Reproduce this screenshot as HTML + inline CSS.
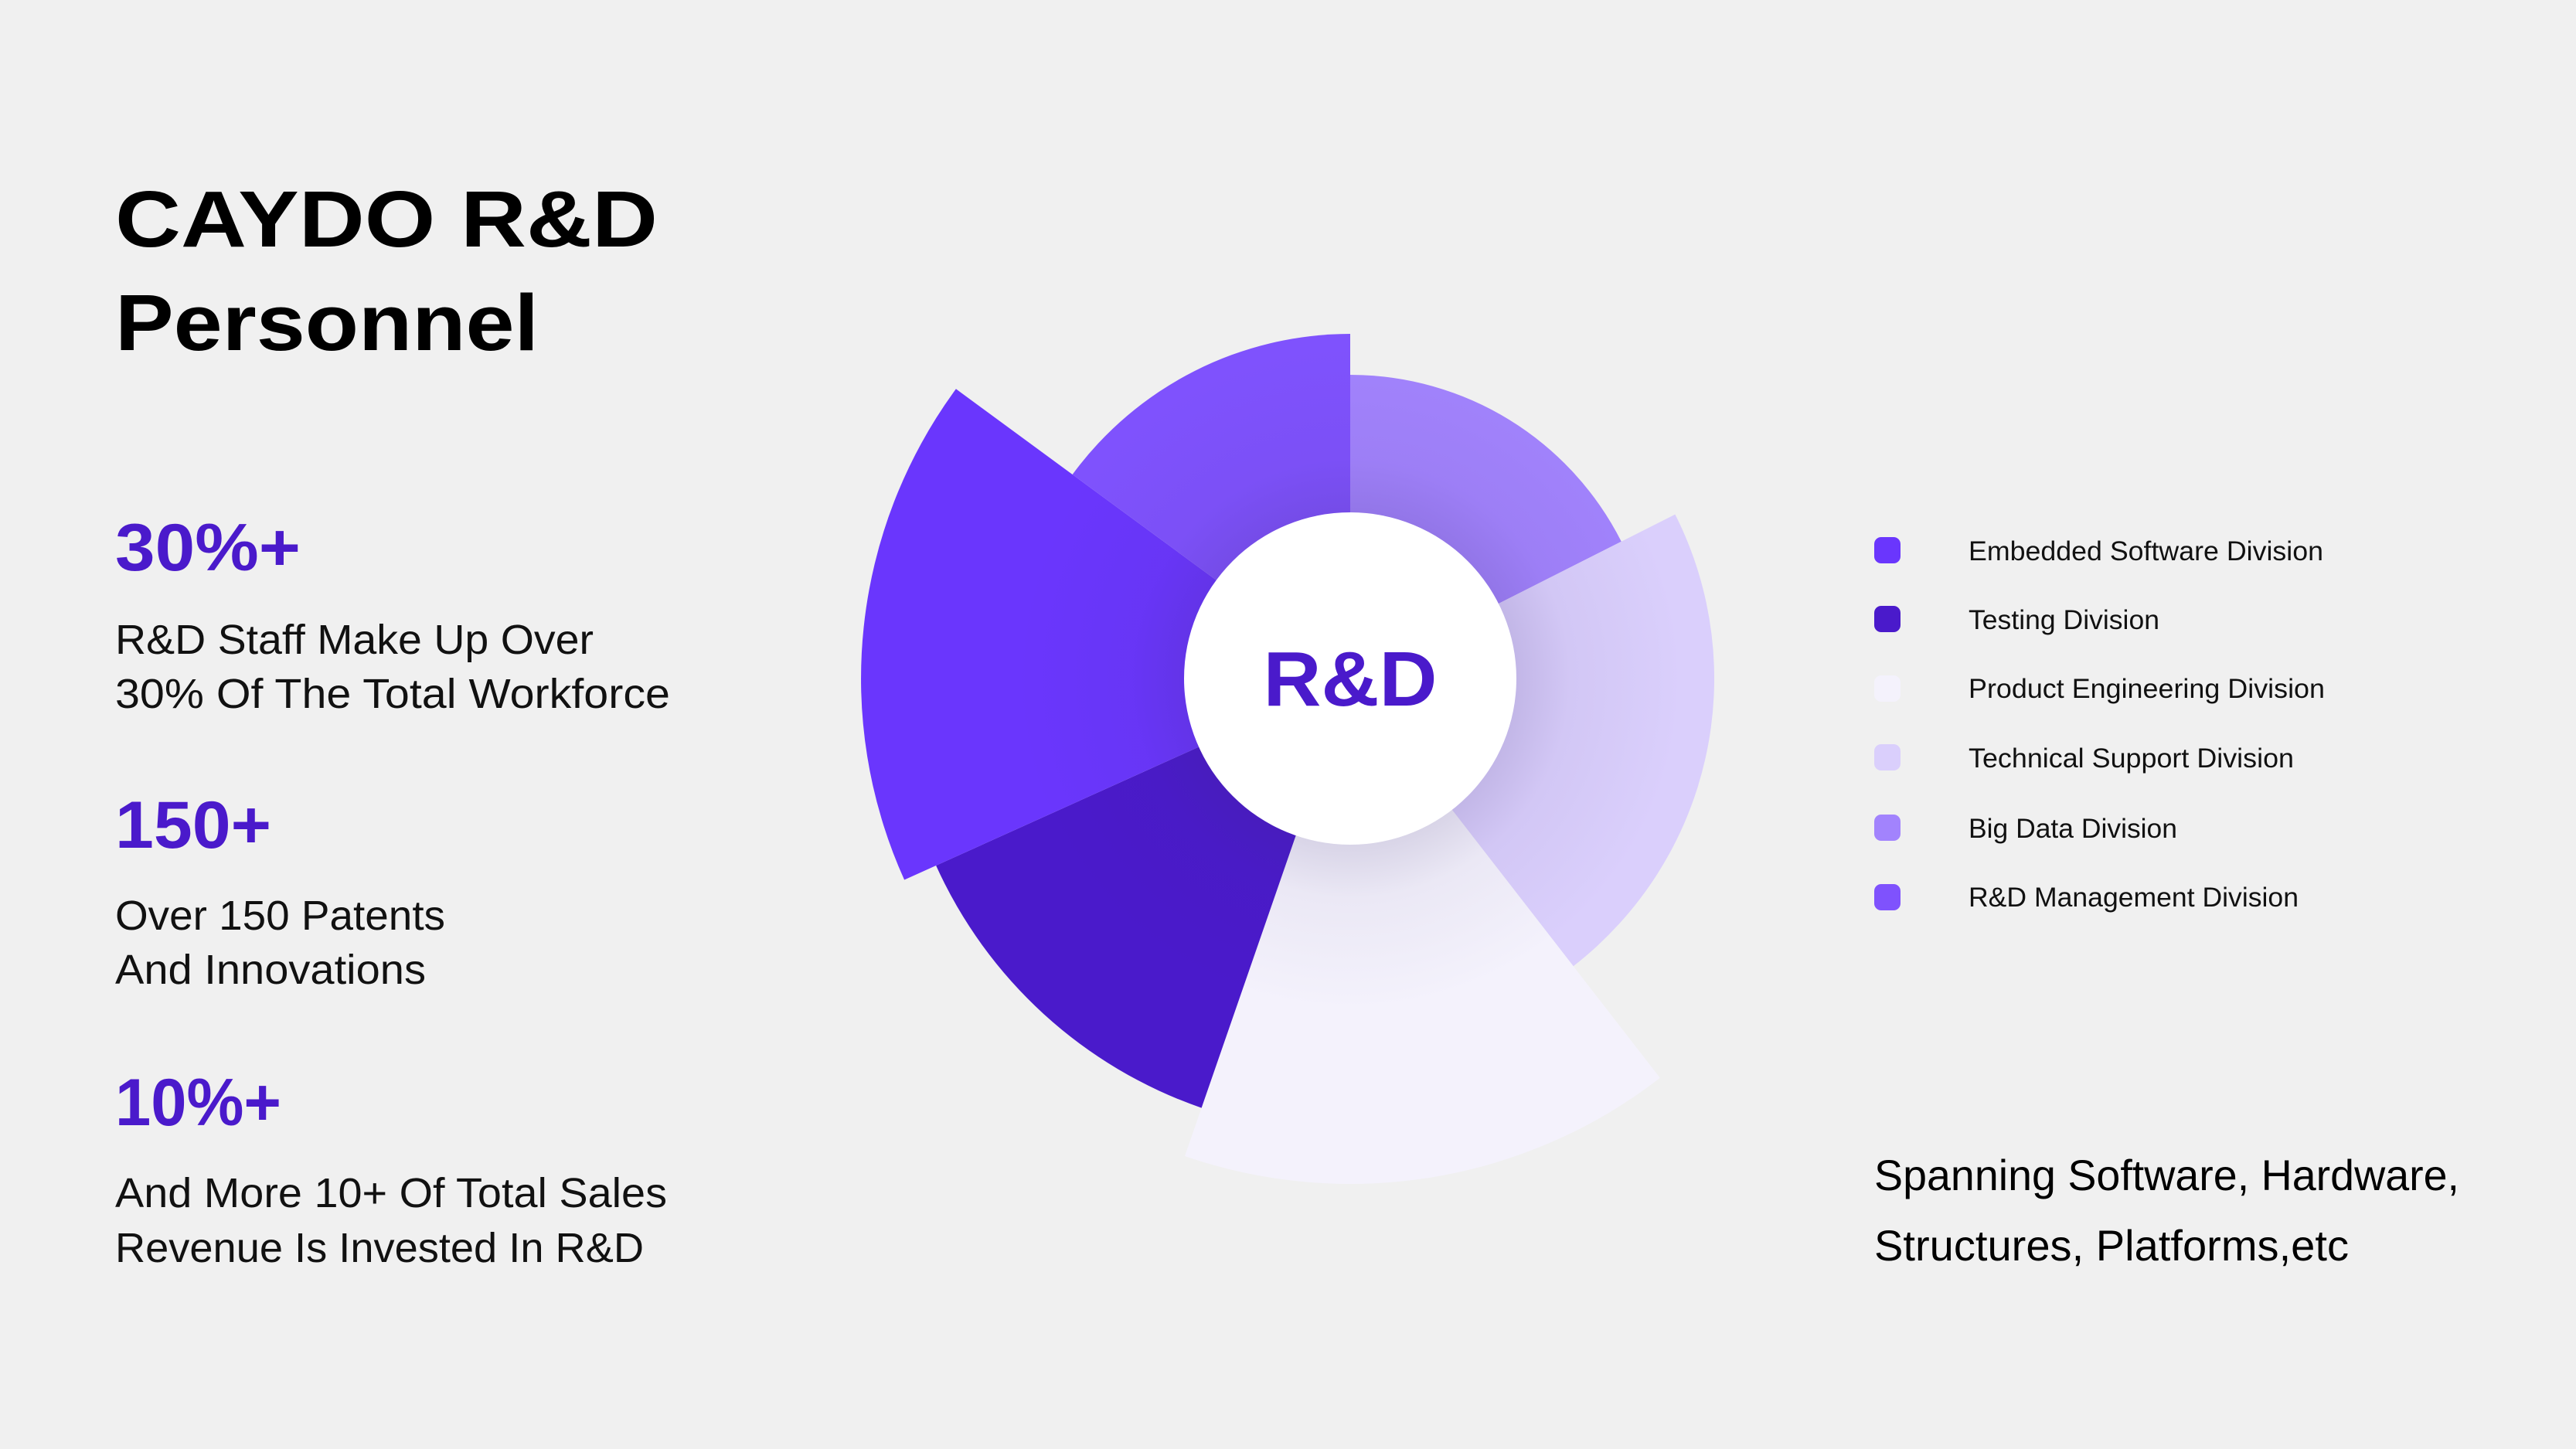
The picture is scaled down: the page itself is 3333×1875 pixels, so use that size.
<!DOCTYPE html>
<html><head><meta charset="utf-8"><style>
html,body{margin:0;padding:0;background:#f0f0f0;}
svg{display:block;}
text{font-family:"Liberation Sans",sans-serif;}
</style></head><body>
<svg width="3333" height="1875" viewBox="0 0 3333 1875" xmlns="http://www.w3.org/2000/svg">
<defs>
<radialGradient id="sh" cx="1747" cy="878" r="430" gradientUnits="userSpaceOnUse">
<stop offset="0.48" stop-color="#3a2a70" stop-opacity="0.16"/>
<stop offset="0.66" stop-color="#3a2a70" stop-opacity="0.05"/>
<stop offset="1" stop-color="#3a2a70" stop-opacity="0"/>
</radialGradient>
<clipPath id="pie">
<path d="M1747 878 L1747 485 A393 393 0 0 1 2097.8 700.8 Z"/>
<path d="M1747 878 L2167.4 665.6 A471 471 0 0 1 2035.7 1250.2 Z"/>
<path d="M1747 878 L2147.8 1394.8 A654 654 0 0 1 1533 1496 Z"/>
<path d="M1747 878 L1554.6 1433.6 A588 588 0 0 1 1211.1 1120 Z"/>
<path d="M1747 878 L1170.1 1138.5 A633 633 0 0 1 1236.9 503.3 Z"/>
<path d="M1747 878 L1387.6 614 A446 446 0 0 1 1747 432 Z"/>
</clipPath>
</defs>
<rect width="3333" height="1875" fill="#f0f0f0"/>

<text x="149" y="319" font-size="103" font-weight="bold" fill="#000" textLength="702" lengthAdjust="spacingAndGlyphs">CAYDO R&amp;D</text>
<text x="149" y="453" font-size="103" font-weight="bold" fill="#000" textLength="548" lengthAdjust="spacingAndGlyphs">Personnel</text>

<text x="149" y="738" font-size="86" font-weight="bold" fill="#4a1acb" textLength="240" lengthAdjust="spacingAndGlyphs">30%+</text>
<text x="149" y="846" font-size="54" fill="#111" textLength="619" lengthAdjust="spacingAndGlyphs">R&amp;D Staff Make Up Over</text>
<text x="149" y="916" font-size="54" fill="#111" textLength="718" lengthAdjust="spacingAndGlyphs">30% Of The Total Workforce</text>

<text x="149" y="1097" font-size="86" font-weight="bold" fill="#4a1acb" textLength="202" lengthAdjust="spacingAndGlyphs">150+</text>
<text x="149" y="1203" font-size="54" fill="#111" textLength="427" lengthAdjust="spacingAndGlyphs">Over 150 Patents</text>
<text x="149" y="1273" font-size="54" fill="#111" textLength="402" lengthAdjust="spacingAndGlyphs">And Innovations</text>

<text x="149" y="1456" font-size="86" font-weight="bold" fill="#4a1acb" textLength="215" lengthAdjust="spacingAndGlyphs">10%+</text>
<text x="149" y="1562" font-size="54" fill="#111" textLength="714" lengthAdjust="spacingAndGlyphs">And More 10+ Of Total Sales</text>
<text x="149" y="1633" font-size="54" fill="#111" textLength="684" lengthAdjust="spacingAndGlyphs">Revenue Is Invested In R&amp;D</text>

<path d="M1747 878 L1747 485 A393 393 0 0 1 2097.8 700.8 Z" fill="#a283fd"/>
<path d="M1747 878 L2167.4 665.6 A471 471 0 0 1 2035.7 1250.2 Z" fill="#dacffc"/>
<path d="M1747 878 L2147.8 1394.8 A654 654 0 0 1 1533 1496 Z" fill="#f4f2fc"/>
<path d="M1747 878 L1554.6 1433.6 A588 588 0 0 1 1211.1 1120 Z" fill="#4a1acb"/>
<path d="M1747 878 L1170.1 1138.5 A633 633 0 0 1 1236.9 503.3 Z" fill="#6a36fd"/>
<path d="M1747 878 L1387.6 614 A446 446 0 0 1 1747 432 Z" fill="#7f52fd"/>
<circle cx="1747" cy="878" r="430" fill="url(#sh)" clip-path="url(#pie)"/>
<circle cx="1747" cy="878" r="215" fill="#ffffff"/>
<text x="1747" y="913" font-size="100" font-weight="bold" fill="#4a1acb" text-anchor="middle" textLength="225" lengthAdjust="spacingAndGlyphs">R&amp;D</text>

<rect x="2425" y="695" width="34" height="34" rx="9" fill="#6a36fd"/>
<rect x="2425" y="784" width="34" height="34" rx="9" fill="#4a1acb"/>
<rect x="2425" y="874" width="34" height="34" rx="9" fill="#f4f2fc"/>
<rect x="2425" y="963" width="34" height="34" rx="9" fill="#dacffc"/>
<rect x="2425" y="1054" width="34" height="34" rx="9" fill="#a283fd"/>
<rect x="2425" y="1144" width="34" height="34" rx="9" fill="#7f52fd"/>
<text x="2547" y="725" font-size="35" fill="#111" textLength="459" lengthAdjust="spacingAndGlyphs">Embedded Software Division</text>
<text x="2547" y="814" font-size="35" fill="#111" textLength="247" lengthAdjust="spacingAndGlyphs">Testing Division</text>
<text x="2547" y="903" font-size="35" fill="#111" textLength="461" lengthAdjust="spacingAndGlyphs">Product Engineering Division</text>
<text x="2547" y="993" font-size="35" fill="#111" textLength="421" lengthAdjust="spacingAndGlyphs">Technical Support Division</text>
<text x="2547" y="1084" font-size="35" fill="#111" textLength="270" lengthAdjust="spacingAndGlyphs">Big Data Division</text>
<text x="2547" y="1173" font-size="35" fill="#111" textLength="427" lengthAdjust="spacingAndGlyphs">R&amp;D Management Division</text>

<text x="2425" y="1540" font-size="56" fill="#000" textLength="757" lengthAdjust="spacingAndGlyphs">Spanning Software, Hardware,</text>
<text x="2425" y="1631" font-size="56" fill="#000" textLength="614" lengthAdjust="spacingAndGlyphs">Structures, Platforms,etc</text>
</svg>
</body></html>
